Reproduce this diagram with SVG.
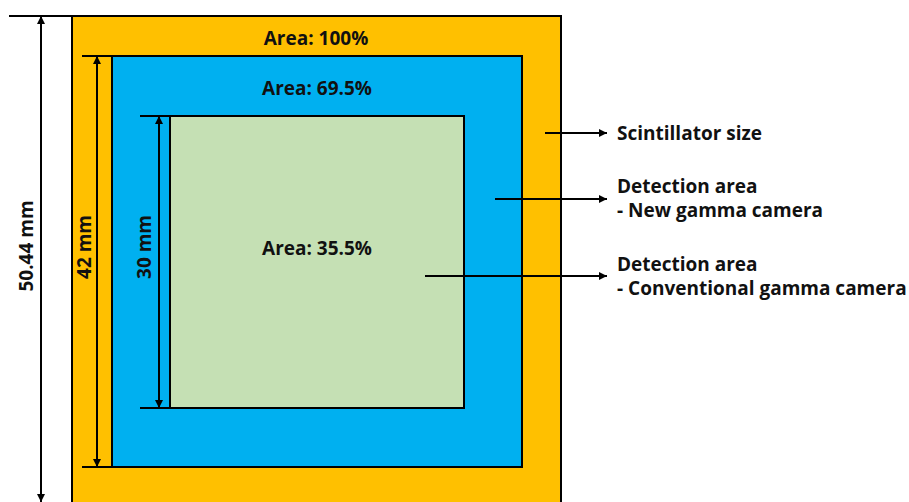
<svg xmlns="http://www.w3.org/2000/svg" width="909" height="502" viewBox="0 0 909 502">
<defs>
<marker id="ah" viewBox="0 0 10 10" refX="10" refY="5" markerWidth="8" markerHeight="8" markerUnits="userSpaceOnUse" orient="auto-start-reverse">
<path d="M0,0 L10,5 L0,10 z" fill="#000"/>
</marker>
<style>
.t{font-family:"Open Sans","Liberation Sans",Arial,sans-serif;font-weight:bold;font-size:19px;fill:#111;}
.ln{stroke:#000;stroke-width:2;fill:none;}
.box{stroke:#000;stroke-width:2;}
</style>
</defs>
<rect width="909" height="502" fill="#fff"/>
<g id="scintillator">
<rect class="box" x="72" y="16" width="489" height="500" fill="#FFC000"/>
<text class="t" x="316" y="45" text-anchor="middle">Area: 100%</text>
</g>
<g id="new-camera">
<rect class="box" x="112" y="56" width="410" height="411" fill="#00B0F0"/>
<text class="t" x="317" y="95" text-anchor="middle">Area: 69.5%</text>
</g>
<g id="conventional-camera">
<rect class="box" x="170" y="116" width="294" height="292" fill="#C5E0B4"/>
<text class="t" x="317" y="255" text-anchor="middle">Area: 35.5%</text>
</g>
<g id="dimensions">
<line class="ln" x1="9" y1="16" x2="72" y2="16"/>
<line class="ln" x1="41" y1="16" x2="41" y2="502" marker-start="url(#ah)" marker-end="url(#ah)"/>
<text class="t" transform="translate(33,246) rotate(-90)" text-anchor="middle">50.44 mm</text>
<line class="ln" x1="82" y1="56" x2="112" y2="56"/>
<line class="ln" x1="82" y1="467" x2="112" y2="467"/>
<line class="ln" x1="97" y1="56" x2="97" y2="467" marker-start="url(#ah)" marker-end="url(#ah)"/>
<text class="t" transform="translate(91,247) rotate(-90)" text-anchor="middle">42 mm</text>
<line class="ln" x1="140" y1="116" x2="170" y2="116"/>
<line class="ln" x1="140" y1="408" x2="170" y2="408"/>
<line class="ln" x1="159" y1="116" x2="159" y2="408" marker-start="url(#ah)" marker-end="url(#ah)"/>
<text class="t" transform="translate(151,247) rotate(-90)" text-anchor="middle">30 mm</text>
</g>
<g id="connectors">
<line class="ln" x1="545" y1="133" x2="607" y2="133" marker-end="url(#ah)"/>
<line class="ln" x1="495" y1="199" x2="607" y2="199" marker-end="url(#ah)"/>
<line class="ln" x1="425" y1="276" x2="607" y2="276" marker-end="url(#ah)"/>
</g>
<g id="labels">
<text class="t" x="617" y="140">Scintillator size</text>
<text class="t" x="617" y="193">Detection area</text>
<text class="t" x="617" y="217">- New gamma camera</text>
<text class="t" x="617" y="271">Detection area</text>
<text class="t" x="617" y="295">- Conventional gamma camera</text>
</g>
</svg>
